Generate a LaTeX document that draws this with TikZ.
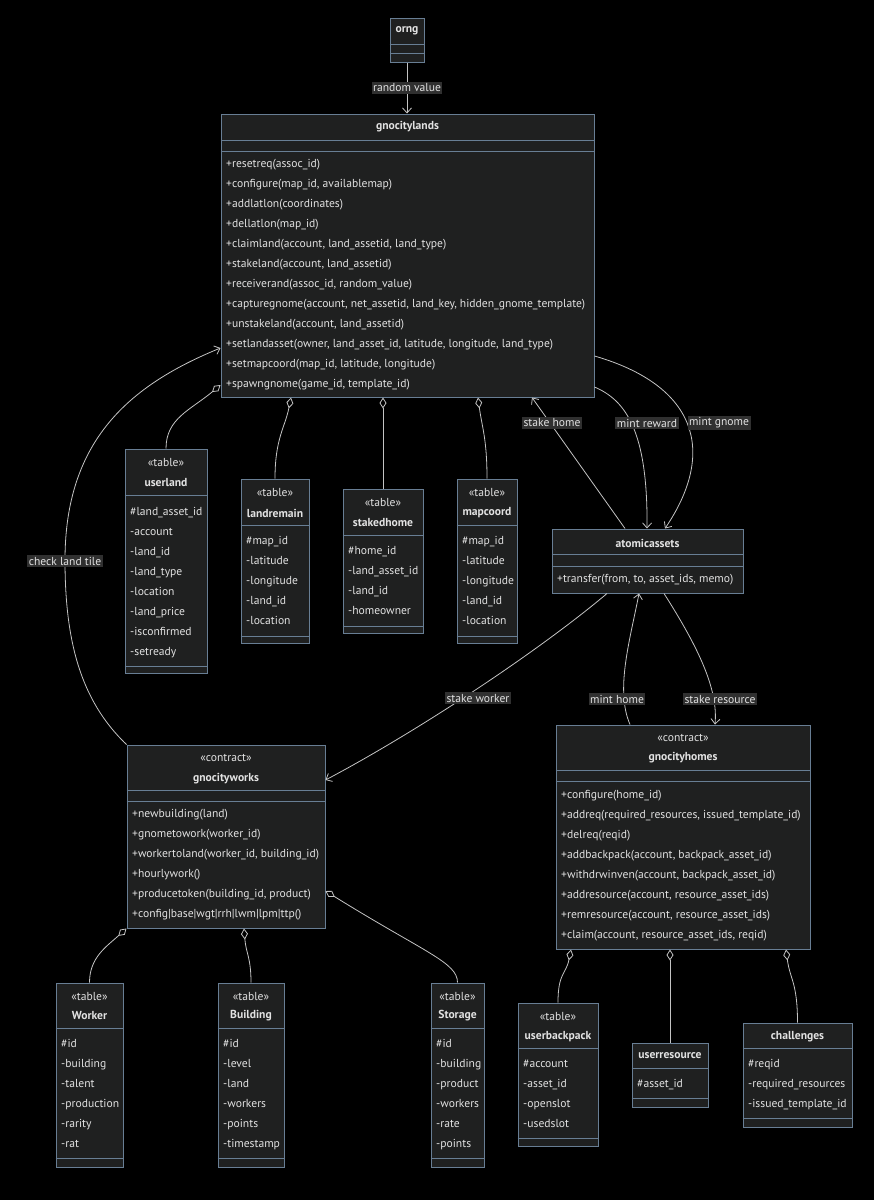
\documentclass[tikz,border=0pt]{standalone}
\usepackage{fontspec}
\setmainfont{PT Sans}
\usepackage{xcolor}
\usepackage{tikz}
\usetikzlibrary{arrows.meta}
\definecolor{bgc}{HTML}{000000}
\definecolor{boxbg}{HTML}{1F2020}
\definecolor{bdr}{HTML}{687E94}
\definecolor{edge}{HTML}{C4C4C4}
\definecolor{txt}{HTML}{E2E2E2}
\definecolor{lblbg}{HTML}{303030}

\begin{document}
\begin{tikzpicture}[x=1pt,y=-1pt,
  every node/.style={font=\fontsize{11.6}{13}\selectfont,text=txt},
  cls/.style={draw=bdr,fill=boxbg,line width=1pt,inner sep=0pt},
  ttl/.style={font=\fontsize{11.6}{13}\selectfont\bfseries,inner sep=0pt},
  ster/.style={inner sep=0pt},
  mem/.style={anchor=west,inner sep=0pt,text height=9.5pt,text depth=2.5pt},
  div/.style={draw=bdr,line width=1pt},
  dep/.style={draw=edge,line width=0.8pt,-{Straight Barb[length=5pt,width=9pt]}},
  agg/.style={draw=edge,line width=0.8pt,-{Diamond[open,length=11pt,width=7pt]}},
  lbl/.style={fill=lblbg,inner sep=1.5pt}]
 \useasboundingbox (0,0) rectangle (874,1200);
 \fill[bgc] (0,0) rectangle (874,1200);

 \node[cls,minimum width=34pt,minimum height=44pt] (orng) at (407,40) {};
 \node[ttl] (orng-t) at (407,31) {orng};

 \node[cls,minimum width=373pt,minimum height=283pt] (lands) at (407.5,255.5) {};
 \node[ttl] (lands-t) at (407.5,127) {gnocitylands};
 \foreach \m [count=\i from 0] in {+resetreq(assoc\_id),{+configure(map\_id, availablemap)},
   +addlatlon(coordinates),+dellatlon(map\_id),{+claimland(account, land\_assetid, land\_type)},
   {+stakeland(account, land\_assetid)},{+receiverand(assoc\_id, random\_value)},
   {+capturegnome(account, net\_assetid, land\_key, hidden\_gnome\_template)},
   {+unstakeland(account, land\_assetid)},
   {+setlandasset(owner, land\_asset\_id, latitude, longitude, land\_type)},
   {+setmapcoord(map\_id, latitude, longitude)},{+spawngnome(game\_id, template\_id)}}
   \node[mem] (lands-\i) at (226,{164+20*\i}) {\m};

 \node[cls,minimum width=82pt,minimum height=224pt] (userland) at (166,561) {};
 \node[ster] (userland-s) at (166,463) {«table»};
 \node[ttl] (userland-t) at (166,483) {userland};
 \foreach \m [count=\i from 0] in {\#land\_asset\_id,-account,-land\_id,-land\_type,-location,-land\_price,-isconfirmed,-setready}
   \node[mem] (userland-\i) at (130,{512+20*\i}) {\m};

 \node[cls,minimum width=68pt,minimum height=164pt] (landremain) at (275,561) {};
 \node[ster] (landremain-s) at (275,493) {«table»};
 \node[ttl] (landremain-t) at (275,513) {landremain};
 \foreach \m [count=\i from 0] in {\#map\_id,-latitude,-longitude,-land\_id,-location}
   \node[mem] (landremain-\i) at (246,{541+20*\i}) {\m};

 \node[cls,minimum width=80pt,minimum height=144pt] (stakedhome) at (383,561) {};
 \node[ster] (stakedhome-s) at (383,503) {«table»};
 \node[ttl] (stakedhome-t) at (383,523) {stakedhome};
 \foreach \m [count=\i from 0] in {\#home\_id,-land\_asset\_id,-land\_id,-homeowner}
   \node[mem] (stakedhome-\i) at (348,{551+20*\i}) {\m};

 \node[cls,minimum width=60pt,minimum height=164pt] (mapcoord) at (487,561) {};
 \node[ster] (mapcoord-s) at (487,493) {«table»};
 \node[ttl] (mapcoord-t) at (487,513) {mapcoord};
 \foreach \m [count=\i from 0] in {\#map\_id,-latitude,-longitude,-land\_id,-location}
   \node[mem] (mapcoord-\i) at (462,{541+20*\i}) {\m};

 \node[cls,minimum width=191pt,minimum height=64pt] (atomic) at (647.5,561) {};
 \node[ttl] (atomic-t) at (647.5,543) {atomicassets};
 \node[mem] (atomic-0) at (557,579) {+transfer(from, to, asset\_ids, memo)};

 \node[cls,minimum width=198pt,minimum height=183pt] (works) at (226,836.5) {};
 \node[ster] (works-s) at (226,758) {«contract»};
 \node[ttl] (works-t) at (226,779) {gnocityworks};
 \foreach \m [count=\i from 0] in {+newbuilding(land),+gnometowork(worker\_id),{+workertoland(worker\_id, building\_id)},
   +hourlywork(),{+producetoken(building\_id, product)},+config|base|wgt|rrh|lwm|lpm|ttp()}
   \node[mem] (works-\i) at (132,{814+20*\i}) {\m};

 \node[cls,minimum width=254pt,minimum height=224pt] (homes) at (683,837) {};
 \node[ster] (homes-s) at (683,738) {«contract»};
 \node[ttl] (homes-t) at (683,758) {gnocityhomes};
 \foreach \m [count=\i from 0] in {+configure(home\_id),{+addreq(required\_resources, issued\_template\_id)},
   +delreq(reqid),{+addbackpack(account, backpack\_asset\_id)},{+withdrwinven(account, backpack\_asset\_id)},
   {+addresource(account, resource\_asset\_ids)},{+remresource(account, resource\_asset\_ids)},
   {+claim(account, resource\_asset\_ids, reqid)}}
   \node[mem] (homes-\i) at (561,{795+20*\i}) {\m};

 \node[cls,minimum width=67pt,minimum height=184pt] (worker) at (89.5,1075) {};
 \node[ster] (worker-s) at (89.5,996) {«table»};
 \node[ttl] (worker-t) at (89.5,1016) {Worker};
 \foreach \m [count=\i from 0] in {\#id,-building,-talent,-production,-rarity,-rat}
   \node[mem] (worker-\i) at (61,{1044+20*\i}) {\m};

 \node[cls,minimum width=66pt,minimum height=184pt] (building) at (251,1075) {};
 \node[ster] (building-s) at (251,996) {«table»};
 \node[ttl] (building-t) at (251,1016) {Building};
 \foreach \m [count=\i from 0] in {\#id,-level,-land,-workers,-points,-timestamp}
   \node[mem] (building-\i) at (223,{1044+20*\i}) {\m};

 \node[cls,minimum width=53pt,minimum height=184pt] (storage) at (457.5,1075) {};
 \node[ster] (storage-s) at (457.5,996) {«table»};
 \node[ttl] (storage-t) at (457.5,1016) {Storage};
 \foreach \m [count=\i from 0] in {\#id,-building,-product,-workers,-rate,-points}
   \node[mem] (storage-\i) at (436,{1044+20*\i}) {\m};

 \node[cls,minimum width=80pt,minimum height=143pt] (backpack) at (558,1074.5) {};
 \node[ster] (backpack-s) at (558,1016) {«table»};
 \node[ttl] (backpack-t) at (558,1037) {userbackpack};
 \foreach \m [count=\i from 0] in {\#account,-asset\_id,-openslot,-usedslot}
   \node[mem] (backpack-\i) at (523,{1064+20*\i}) {\m};

 \node[cls,minimum width=76pt,minimum height=64pt] (resource) at (670,1075) {};
 \node[ttl] (resource-t) at (670,1056) {userresource};
 \node[mem] (resource-0) at (637,1084) {\#asset\_id};

 \node[cls,minimum width=109pt,minimum height=104pt] (challenges) at (797.5,1075) {};
 \node[ttl] (challenges-t) at (797.5,1037) {challenges};
 \foreach \m [count=\i from 0] in {\#reqid,-required\_resources,-issued\_template\_id}
   \node[mem] (challenges-\i) at (748,{1064+20*\i}) {\m};

 \foreach \b/\y in {orng/44,orng/53,lands/140,lands/151,userland/495,userland/666,landremain/525,landremain/636,
   stakedhome/535,stakedhome/626,mapcoord/525,mapcoord/636,atomic/554,atomic/566,works/790,works/801,
   homes/770,homes/781,worker/1028,worker/1158,building/1028,building/1158,storage/1028,storage/1158,
   backpack/1048,backpack/1138,resource/1068,resource/1098,challenges/1048,challenges/1118}
   \draw[div] (\b.west |- 0,\y) -- (\b.east |- 0,\y);

 \draw[dep] (orng.south) -- (orng.south |- lands.north);
 \draw[dep] (atomic.north -| 625,0) -- (lands.south -| 532,0);
 \draw[dep] (lands.east |- 0,387) .. controls (625,400) and (648,430) .. (atomic.north -| 647,0);
 \draw[dep] (lands.east |- 0,356) .. controls (695,385) and (718,450) .. (atomic.north -| 665,0);
 \draw[dep] (atomic.south -| 607,0) .. controls (540,650) and (420,730) .. (works.east |- 0,780);
 \draw[dep] (homes.north -| 630,0) .. controls (615,690) and (630,640) .. (atomic.south -| 639,0);
 \draw[dep] (atomic.south -| 664,0) .. controls (700,650) and (718,690) .. (homes.north -| 715,0);
 \draw[dep] (works.north west) .. controls (80,700) and (65,640) .. (65,560)
   .. controls (65,440) and (130,385) .. (lands.west |- 0,348);

 \draw[agg] (userland.north) .. controls +(0,-30) and +(-30,25) .. (lands.west |- 0,385);
 \draw[agg] (landremain.north) .. controls +(0,-40) and +(-6,30) .. (lands.south -| 291,0);
 \draw[agg] (stakedhome.north) -- (lands.south -| 383,0);
 \draw[agg] (mapcoord.north) .. controls +(0,-40) and +(4,30) .. (lands.south -| 478,0);
 \draw[agg] (worker.north) .. controls +(0,-25) and +(-20,18) .. (works.south west);
 \draw[agg] (building.north) .. controls +(0,-25) and +(2,25) .. (works.south -| 244,0);
 \draw[agg] (storage.north) .. controls +(0,-20) and +(100,62) .. (works.east |- 0,891);
 \draw[agg] (backpack.north) .. controls +(0,-30) and +(-5,25) .. (homes.south -| 571,0);
 \draw[agg] (resource.north) -- (homes.south -| 670,0);
 \draw[agg] (challenges.north) .. controls +(0,-40) and +(4,30) .. (homes.south -| 786,0);

 \node[lbl] (l-random) at (407,88) {random value};
 \node[lbl] (l-stakehome) at (552,423) {stake home};
 \node[lbl] (l-reward) at (647,423) {mint reward};
 \node[lbl] (l-gnome) at (719,423) {mint gnome};
 \node[lbl] (l-tile) at (65,561) {check land tile};
 \node[lbl] (l-worker) at (478,698) {stake worker};
 \node[lbl] (l-minthome) at (617,699) {mint home};
 \node[lbl] (l-resource) at (720,699) {stake resource};
\end{tikzpicture}
\end{document}
